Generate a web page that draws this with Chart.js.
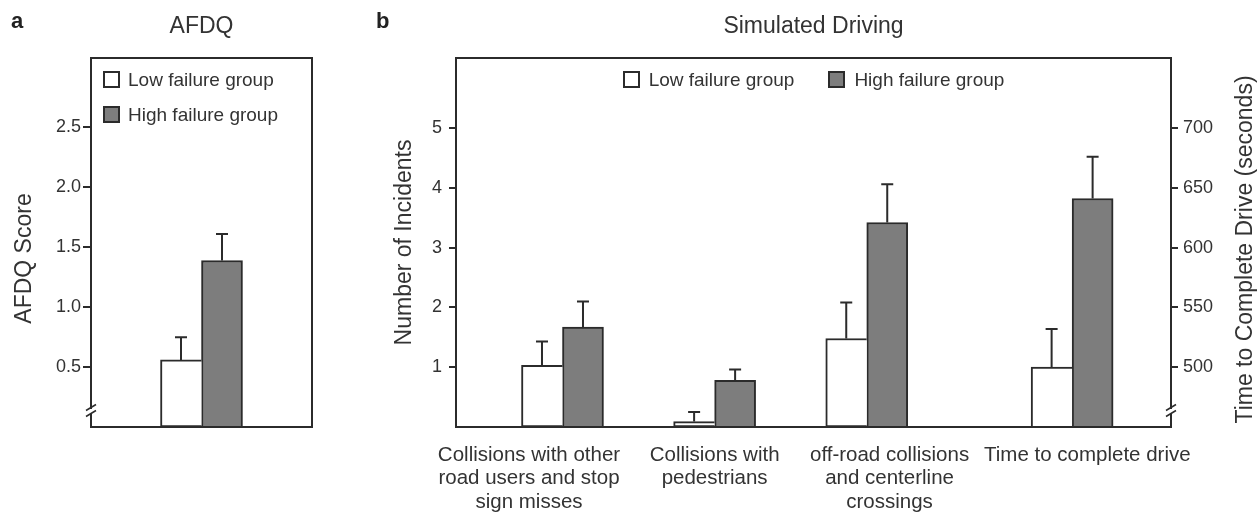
<!DOCTYPE html>
<html>
<head>
<meta charset="utf-8">
<title>AFDQ and simulated driving</title>
<script src="https://cdn.jsdelivr.net/npm/chart.js@4.4.0/dist/chart.umd.min.js"></script>
<style>
  body { margin: 0; background: #fff; font-family: 'Liberation Sans', Arial, sans-serif; color: #333; }
  #wrap { position: relative; width: 1260px; height: 513px; overflow: hidden; }
  .panel { position: absolute; top: 0; height: 513px; }
  #panelA { left: 0; width: 340px; }
  #panelB { left: 340px; width: 920px; }
  .tag { position: absolute; top: 10px; font-weight: bold; font-size: 22px; line-height: 22px; color: #222; }
  .legend { position: absolute; display: flex; font-size: 19px; line-height: 19px; }
  .legend .item { display: flex; align-items: center; }
  .legend .swatch { width: 17px; height: 17px; box-sizing: border-box; border: 2px solid #2b2b2b; margin-right: 9px; }
  #legendA { left: 103px; top: 70px; flex-direction: column; gap: 16px; }
  #legendA .swatch { margin-right: 8px; }
  #legendB { left: 456px; width: 715px; top: 70px; justify-content: center; }
  #legendB .item { margin: 0 17px; }
</style>
</head>
<body>
<div id="wrap">
  <div class="panel" id="panelA"><canvas id="chartA"></canvas></div>
  <div class="panel" id="panelB"><canvas id="chartB"></canvas></div>
  <div class="tag" style="left:11px">a</div>
  <div class="tag" style="left:376px">b</div>
  <div class="legend" id="legendA"></div>
  <div class="legend" id="legendB"></div>
</div>
<script>
const GROUPS = ['Low failure group', 'High failure group'];

// panel a: AFDQ score (mean and error)
const afdqLow = [0.56];
const afdqLowErr = [0.19];
const afdqHigh = [1.39];
const afdqHighErr = [0.22];
const afdqTicks = [0.5, 1.0, 1.5, 2.0, 2.5];

// panel b: simulated driving
const driveCats = [
  ['Collisions with other', 'road users and stop', 'sign misses'],
  ['Collisions with', 'pedestrians'],
  ['off-road collisions', 'and centerline', 'crossings'],
  ['Time to complete drive']
];
const incidentsLow = [1.03, 0.09, 1.48];
const incidentsLowErr = [0.40, 0.16, 0.60];
const incidentsHigh = [1.67, 0.78, 3.42];
const incidentsHighErr = [0.43, 0.18, 0.64];
const timeLow = [500];
const timeLowErr = [32];
const timeHigh = [641];
const timeHighErr = [35];
const incidentTicks = [1, 2, 3, 4, 5];
const timeTicks = [500, 550, 600, 650, 700];

// where the category groups and their labels sit on panel b's x axis
const BAR_X = [0.7, 1.7, 2.7, 4.05];
const LABEL_X = [0.48, 1.7, 2.85, 4.15];

const FILL = ['#ffffff', '#7d7d7d'];
const INK = '#2b2b2b';
const FONT = "'Liberation Sans', Arial, sans-serif";

Chart.defaults.font.family = FONT;
Chart.defaults.color = '#333';
Chart.defaults.animation = false;

function sideTitle(ctx, text, x, y) {
  ctx.save();
  ctx.translate(x, y);
  ctx.rotate(-Math.PI / 2);
  ctx.font = '23px ' + FONT;
  ctx.fillStyle = '#333';
  ctx.textAlign = 'center';
  ctx.textBaseline = 'middle';
  ctx.fillText(text, 0, 0);
  ctx.restore();
}

// box round the plot area, axis break mark, side titles read bottom to top
const frame = {
  id: 'frame',
  afterDatasetsDraw(chart, args, opts) {
    const { ctx, chartArea: a } = chart;
    const mid = (a.top + a.bottom) / 2;
    ctx.save();
    ctx.strokeStyle = INK;
    ctx.lineWidth = 2;
    ctx.strokeRect(a.left, a.top, a.width, a.height);

    const bx = opts.breakSide === 'right' ? a.right : a.left;
    const by = a.bottom - 16;
    ctx.fillStyle = '#fff';
    ctx.fillRect(bx - 3, by - 2, 6, 5);
    ctx.lineWidth = 1.5;
    ctx.beginPath();
    ctx.moveTo(bx - 5, by - 0.5); ctx.lineTo(bx + 5, by - 6.5);
    ctx.moveTo(bx - 5, by + 5.5); ctx.lineTo(bx + 5, by - 0.5);
    ctx.stroke();
    ctx.restore();

    if (opts.leftTitle) sideTitle(ctx, opts.leftTitle, 25, mid + 16);
    if (opts.rightTitle) sideTitle(ctx, opts.rightTitle, a.right + 75, mid + 7);
  }
};

const errorBars = {
  id: 'errorBars',
  afterDatasetsDraw(chart) {
    const { ctx } = chart;
    ctx.save();
    ctx.strokeStyle = INK;
    ctx.lineWidth = 2;
    chart.data.datasets.forEach((ds, i) => {
      if (!ds.errors) return;
      const meta = chart.getDatasetMeta(i);
      const scale = chart.scales[meta.yAxisID];
      meta.data.forEach((bar, j) => {
        const v = meta.controller.getParsed(j).y;
        const top = scale.getPixelForValue(v + ds.errors[j]);
        ctx.beginPath();
        ctx.moveTo(bar.x, bar.y);
        ctx.lineTo(bar.x, top);
        ctx.moveTo(bar.x - 6, top);
        ctx.lineTo(bar.x + 6, top);
        ctx.stroke();
      });
    });
    ctx.restore();
  }
};

function barStyle(k) {
  return {
    backgroundColor: FILL[k],
    borderColor: INK,
    borderWidth: 2,
    borderSkipped: k === 0 ? 'right' : 'start',
    barThickness: 41,
    clip: 0
  };
}

const titleOpts = text => ({
  display: true,
  text: text,
  fullSize: false,
  color: '#333',
  font: { size: 23, weight: 'normal' },
  padding: { top: 13, bottom: 17.4 }
});

const tickMarks = len => ({ drawOnChartArea: false, drawTicks: true, tickLength: len, color: INK, lineWidth: 2 });

new Chart(document.getElementById('chartA'), {
  type: 'bar',
  data: {
    labels: [''],
    datasets: [
      { label: GROUPS[0], data: afdqLow, errors: afdqLowErr, ...barStyle(0) },
      { label: GROUPS[1], data: afdqHigh, errors: afdqHighErr, ...barStyle(1) }
    ]
  },
  options: {
    responsive: true,
    maintainAspectRatio: false,
    layout: { padding: { left: 0, right: 28, top: 0, bottom: 0 } },
    plugins: {
      title: titleOpts('AFDQ'),
      legend: { display: false },
      tooltip: { enabled: false },
      frame: { breakSide: 'left', leftTitle: 'AFDQ Score' }
    },
    scales: {
      x: {
        ticks: { display: false },
        grid: { display: false, drawTicks: false },
        border: { display: false },
        afterFit: s => { s.height = 86; }
      },
      y: {
        min: 0,
        max: 3.08,
        afterBuildTicks: s => { s.ticks = afdqTicks.map(v => ({ value: v })); },
        afterFit: s => { s.width = 91; },
        ticks: { padding: 2, font: { size: 18 }, callback: v => v.toFixed(1) },
        grid: tickMarks(8),
        border: { display: false }
      }
    }
  },
  plugins: [errorBars, frame]
});

const pts = (vals, from) => vals.map((v, i) => ({ x: BAR_X[from + i], y: v }));

new Chart(document.getElementById('chartB'), {
  type: 'bar',
  data: {
    datasets: [
      { label: GROUPS[0], stack: 'low', yAxisID: 'y', data: pts(incidentsLow, 0), errors: incidentsLowErr, ...barStyle(0) },
      { label: GROUPS[0], stack: 'low', yAxisID: 'y2', data: pts(timeLow, 3), errors: timeLowErr, ...barStyle(0) },
      { label: GROUPS[1], stack: 'high', yAxisID: 'y', data: pts(incidentsHigh, 0), errors: incidentsHighErr, ...barStyle(1) },
      { label: GROUPS[1], stack: 'high', yAxisID: 'y2', data: pts(timeHigh, 3), errors: timeHighErr, ...barStyle(1) }
    ]
  },
  options: {
    responsive: true,
    maintainAspectRatio: false,
    layout: { padding: 0 },
    plugins: {
      title: titleOpts('Simulated Driving'),
      legend: { display: false },
      tooltip: { enabled: false },
      frame: { breakSide: 'right', rightTitle: 'Time to Complete Drive (seconds)' }
    },
    scales: {
      x: {
        type: 'linear',
        min: 0,
        max: 4.7,
        offset: false,
        afterBuildTicks: s => { s.ticks = LABEL_X.map(v => ({ value: v })); },
        afterFit: s => { s.height = 86; },
        grid: { display: false, drawTicks: false },
        border: { display: false },
        ticks: {
          autoSkip: false,
          maxRotation: 0,
          minRotation: 0,
          padding: 16,
          font: { size: 20.5, lineHeight: 1.16 },
          callback: (v, i) => driveCats[i]
        }
      },
      y: {
        position: 'left',
        stacked: false,
        min: 0,
        max: 6.17,
        afterBuildTicks: s => { s.ticks = incidentTicks.map(v => ({ value: v })); },
        afterFit: s => { s.width = 116; },
        ticks: { padding: 7, font: { size: 18 } },
        grid: tickMarks(7),
        border: { display: false },
        title: { display: true, text: 'Number of Incidents', font: { size: 23 }, padding: { top: 51 } }
      },
      y2: {
        position: 'right',
        stacked: false,
        min: 450,
        max: 758.5,
        afterBuildTicks: s => { s.ticks = timeTicks.map(v => ({ value: v })); },
        afterFit: s => { s.width = 89; },
        ticks: { padding: 5, font: { size: 18 } },
        grid: tickMarks(7),
        border: { display: false }
      }
    }
  },
  plugins: [errorBars, frame]
});

// legends, laid out inside the plot boxes
function buildLegend(id) {
  const box = document.getElementById(id);
  GROUPS.forEach((g, k) => {
    const item = document.createElement('div');
    item.className = 'item';
    const sw = document.createElement('span');
    sw.className = 'swatch';
    sw.style.background = FILL[k];
    const txt = document.createElement('span');
    txt.textContent = g;
    item.appendChild(sw);
    item.appendChild(txt);
    box.appendChild(item);
  });
}
buildLegend('legendA');
buildLegend('legendB');
</script>
</body>
</html>
